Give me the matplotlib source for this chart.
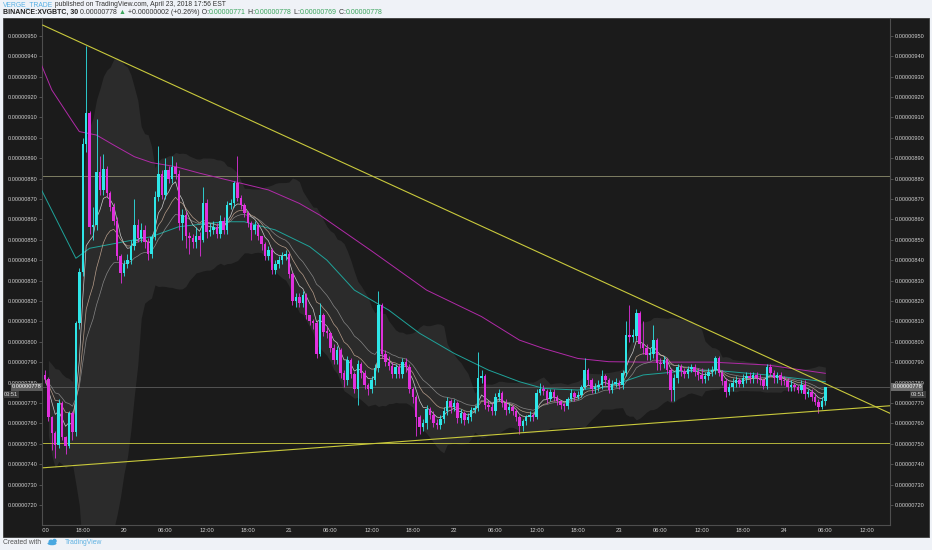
import numpy as np
import pandas as pd
import matplotlib
matplotlib.use("Agg")
import matplotlib.pyplot as plt
from matplotlib.patches import Rectangle, Ellipse

plt.rcParams['font.family'] = ['Liberation Sans', 'DejaVu Sans']

# --- data (prices in 1e-8 BTC), 30 min candles from 2018-04-19 12:30 ---
first_open = 783.7
closes = [781.7, 763.3, 755.1, 749.4, 769.8, 753.5, 749.0, 764.9, 755.9, 809.0,
          834.0, 897.0, 912.0, 856.0, 857.0, 883.0, 874.5, 884.5, 873.0, 866.0,
          859.0, 842.0, 833.5, 838.0, 840.0, 847.0, 857.0, 851.0, 855.0, 849.0,
          843.0, 851.5, 871.0, 882.0, 872.0, 884.0, 880.0, 885.5, 882.0, 858.0,
          862.0, 852.0, 851.0, 849.0, 852.0, 850.0, 868.0, 854.0, 855.0, 856.0,
          853.0, 859.0, 855.0, 867.0, 868.0, 878.0, 870.5, 867.0, 863.0, 858.0,
          855.0, 857.0, 852.0, 848.0, 842.0, 845.0, 835.0, 838.0, 840.0, 842.0,
          843.0, 833.0, 820.0, 822.0, 819.0, 823.0, 813.0, 810.0, 809.0, 794.0,
          813.0, 805.0, 804.5, 797.0, 791.0, 796.0, 784.5, 781.0, 791.0, 784.0,
          777.0, 789.0, 784.5, 779.0, 777.0, 781.0, 787.0, 818.0, 794.0, 790.0,
          788.0, 784.0, 787.5, 784.0, 790.0, 787.5, 777.0, 773.0, 763.0, 758.0,
          760.0, 767.0, 764.0, 760.0, 759.0, 762.0, 766.0, 771.0, 768.0, 770.0,
          762.5, 765.0, 761.5, 763.0, 766.5, 767.5, 782.0, 783.0, 769.0, 768.0,
          766.0, 773.0, 775.0, 770.0, 766.5, 768.0, 766.0, 763.0, 758.5, 761.0,
          763.0, 764.0, 763.0, 775.0, 777.0, 776.0, 772.0, 775.5, 773.0, 771.0,
          769.0, 768.5, 772.0, 775.0, 773.0, 774.0, 778.0, 786.0, 781.0, 777.0,
          778.0, 779.0, 783.0, 781.0, 776.5, 779.5, 780.0, 779.0, 784.5, 803.5,
          802.5, 803.0, 814.0, 799.0, 797.0, 793.5, 794.0, 801.0, 789.5, 789.0,
          791.0, 786.0, 776.5, 782.0, 787.5, 785.5, 784.0, 786.5, 787.5, 785.0,
          783.5, 781.5, 783.0, 785.0, 786.0, 792.0, 784.5, 780.5, 775.5, 778.0,
          780.0, 781.0, 779.5, 782.0, 783.0, 782.0, 783.5, 782.0, 781.0, 778.5,
          787.5, 784.5, 782.0, 783.5, 781.0, 780.5, 778.0, 779.0, 778.0, 776.5,
          779.0, 774.5, 775.5, 773.0, 770.5, 768.0, 771.0, 778.0]
highs = [786, 782.5, 763.5, 756, 772, 771, 754, 766, 766, 810,
         836, 900, 945, 913, 866, 909, 891, 892, 886, 874,
         868, 861, 843, 840, 843, 850, 870, 860, 858, 857,
         851, 853, 874, 896, 884, 890, 886, 891, 888, 884,
         865, 864, 854, 853, 856, 854, 876, 870, 858, 859,
         858, 862, 861, 869, 870, 879, 891, 872, 868, 864,
         859, 859, 858, 850, 849, 847, 846, 840, 842, 844,
         845, 844, 834, 824, 824, 825, 824, 813, 811, 810,
         819, 814, 807, 805, 799, 798, 797, 786, 793, 792,
         785, 791, 790, 786, 780, 783, 789, 825, 819, 796,
         793, 790, 789, 789, 792, 792, 789, 778, 774, 764,
         762, 769, 768, 766, 762, 764, 768, 773, 772, 772,
         771, 767, 766, 765, 768, 769, 795, 786, 784, 771,
         770, 775, 777, 776, 772, 770, 769, 767, 764, 762,
         764, 766, 765, 777, 780, 779, 777, 777, 777, 774,
         771, 770, 773, 777, 776, 776, 779, 792, 787, 782,
         780, 781, 786, 784, 782, 781, 782, 781, 786, 810,
         818, 806, 816, 815, 810, 799, 797, 808, 802, 792,
         793, 792, 787, 784, 789, 789, 787, 788, 789, 789,
         787, 787, 785, 787, 788, 793, 793, 786, 782, 780,
         782, 783, 782, 784, 785, 785, 785, 785, 784, 782,
         789, 789, 786, 785, 785, 783, 782, 781, 780, 779,
         781, 781, 777, 777, 775, 772, 773, 778]
lows = [780, 761, 747, 743, 748, 752, 745, 748, 752, 754,
        806, 832, 893, 853, 850, 855, 872, 872, 871, 864,
        857, 840, 829, 832, 836, 838, 845, 849, 849, 846,
        840, 841, 850, 869, 870, 870, 878, 878, 880, 855,
        850, 846, 843, 846, 846, 842, 849, 851, 852, 853,
        851, 851, 853, 853, 865, 866, 869, 865, 861, 856,
        850, 853, 850, 845, 840, 840, 833, 833, 836, 838,
        840, 831, 818, 817, 817, 817, 811, 808, 806, 792,
        793, 803, 802, 795, 789, 789, 782, 778, 779, 782,
        775, 769, 782, 777, 774, 775, 779, 785, 792, 788,
        786, 782, 782, 782, 782, 785, 775, 770, 754, 755,
        756, 757, 762, 758, 757, 757, 760, 764, 765, 766,
        760, 760, 759, 760, 761, 765, 766, 780, 767, 766,
        764, 764, 771, 768, 764, 765, 764, 761, 755, 756,
        759, 761, 761, 762, 774, 774, 770, 771, 771, 769,
        767, 766, 767, 771, 771, 772, 773, 777, 779, 775,
        775, 776, 777, 779, 775, 775, 778, 777, 777, 783,
        800, 800, 801, 797, 794, 791, 791, 792, 786, 786,
        787, 784, 771, 771, 780, 783, 782, 782, 785, 783,
        781, 780, 780, 781, 783, 784, 783, 779, 773, 774,
        776, 778, 778, 778, 780, 780, 780, 780, 779, 777,
        777, 783, 780, 780, 779, 779, 776, 776, 776, 775,
        775, 772, 773, 771, 769, 765, 767, 769]

# long moving averages (candle index, value)
ma_slow_idx = [-1, 2, 8, 10, 15, 20, 26, 31, 38, 45, 55, 65, 74, 80, 95,
               111, 127, 138, 145, 155, 164, 174, 194, 210, 227]
ma_slow_val = [935.6, 923.4, 908.0, 903.0, 901.3, 896.4, 890.7, 887.8, 885.8,
               882.6, 878.5, 874.4, 867.8, 862.0, 844.5, 825.3, 812.3, 800.8,
               796.7, 791.8, 790.2, 790.0, 790.0, 788.6, 784.5]
ma_mid_idx = [-1, 9, 13, 23, 31, 39, 52, 58, 67, 77, 82, 90, 100, 109, 119,
              129, 138, 145, 155, 164, 174, 184, 194, 210, 227]
ma_mid_val = [874.4, 840.9, 845.8, 849.0, 851.5, 856.4, 858.8, 858.8, 854.8,
              846.6, 840.0, 825.3, 815.5, 804.1, 794.3, 786.1, 780.4, 777.1,
              776.3, 778.0, 783.7, 785.3, 786.1, 783.7, 780.4]

# drawn lines (candle index, value)
resistance = ([-0.65, 245.8], [955.2, 764.9])
support = ([-0.48, 245.8], [738.2, 768.6])
levels = [881.2, 750.2]
last_price = 778

y_ticks = list(range(720, 951, 10))

CYAN = '#2ee6e8'
MAG = '#e030dd'
PANEL = '#1b1b1b'

n = len(closes)
assert len(highs) == n and len(lows) == n

c = np.array(closes)
o = np.r_[first_open, c[:-1]]
h = np.maximum(np.array(highs, float), np.maximum(o, c))
l = np.minimum(np.array(lows, float), np.minimum(o, c))
x = np.arange(n)
times = pd.date_range('2018-04-19 12:30', periods=n, freq='30min')

W, H = 932, 550
fig = plt.figure(figsize=(W / 100, H / 100), dpi=100, facecolor='#eff2f7')


def fx(px):
    return px / W


def fy(py):
    return 1 - py / H


fig.patches.append(Rectangle((fx(3), fy(537)), fx(926), 519 / H, transform=fig.transFigure,
                             facecolor=PANEL, edgecolor='#3c3c3c', lw=0.6, zorder=-1))

ax = fig.add_axes([fx(42), fy(525), fx(848), 507 / H])
ax.set_facecolor('none')
ax.set_xlim(-0.855, 245.8)
ax.set_ylim(710.15, 958.68)

# bollinger style band
s = pd.Series(c)
mid = s.rolling(20, min_periods=2).mean()
sd = s.rolling(20, min_periods=2).std(ddof=0)
ax.fill_between(x, mid - 2 * sd, mid + 2 * sd, color='#2b2b2b', lw=0, zorder=1)

# moving averages
ax.plot(ma_slow_idx, ma_slow_val, color='#b12aa8', lw=0.7, zorder=3)
ax.plot(ma_mid_idx, ma_mid_val, color='#1fa39a', lw=0.7, zorder=3)
for span, col in [(6, '#f2f2f2'), (12, '#d9b9a2'), (20, '#9c9c9c')]:
    ax.plot(x, s.ewm(span=span, adjust=False).mean(), color=col, lw=0.5, alpha=0.8, zorder=3)

# levels and trendlines
ax.axhline(last_price, color='#5c5c5c', lw=0.6, zorder=2)
ax.axhline(levels[0], color='#8e8e6e', lw=0.6, zorder=2)
ax.axhline(levels[1], color='#b4b43a', lw=0.7, zorder=2)
ax.plot(*resistance, color='#c9c93c', lw=0.8, zorder=6)
ax.plot(*support, color='#c9c93c', lw=0.8, zorder=6)

# candles
col = np.where(c >= o, CYAN, MAG)
ax.vlines(x, l, h, colors=col, lw=0.6, zorder=4)
body = np.maximum(np.abs(c - o), 0.8)
ax.bar(x, body, bottom=np.minimum(o, c), width=0.72, color=col, lw=0, zorder=5)

# y axis on both sides
ax.set_yticks(y_ticks)
ax.set_yticklabels([f"{v / 1e8:.8f}" for v in y_ticks])
ax.tick_params(axis='y', left=True, right=True, labelleft=True, labelright=True,
               length=2, width=0.5, pad=1.5, labelsize=4.1, color='#666666',
               labelcolor='#d0d0d0')
ax.set_xticks([])
ax.spines['top'].set_visible(False)
for sp in ['left', 'right', 'bottom']:
    ax.spines[sp].set_color('#4e4e4e')
    ax.spines[sp].set_linewidth(0.8)

# time axis
axt = fig.add_axes([fx(42), fy(537), fx(848), 12 / H])
axt.set_xlim(ax.get_xlim())
axt.set_ylim(0, 1)
axt.axis('off')
for t in pd.date_range('2018-04-19 12:00', '2018-04-24 12:00', freq='6h'):
    pos = (t - times[0]) / pd.Timedelta('30min')
    lab = str(t.day) if t.hour == 0 else t.strftime('%H:%M')
    axt.text(pos, 0.5, lab, ha='center', va='center', fontsize=4.2, color='#d0d0d0', clip_on=True)

# last price tags
fig.text(fx(41.5), fy(387), f"{last_price / 1e8:.8f}", ha='right', va='center', fontsize=4.1,
         color='white', bbox=dict(boxstyle='square,pad=0.2', fc='#5a5a5a', ec='none'), zorder=10)
fig.text(fx(4), fy(394.5), '03:51', ha='left', va='center', fontsize=4.1, color='#e0e0e0',
         bbox=dict(boxstyle='square,pad=0.2', fc='#3c3c3c', ec='none'), zorder=10)
fig.text(fx(892.5), fy(387), f"{last_price / 1e8:.8f}", ha='left', va='center', fontsize=4.1,
         color='white', bbox=dict(boxstyle='square,pad=0.2', fc='#6a6a6a', ec='none'), zorder=10)
fig.text(fx(911), fy(394.5), '03:51', ha='left', va='center', fontsize=4.1, color='#e0e0e0',
         bbox=dict(boxstyle='square,pad=0.2', fc='#3c3c3c', ec='none'), zorder=10)

# header and footer
renderer = fig.canvas.get_renderer()


def put_row(x_px, y_px, parts, size):
    xf = fx(x_px)
    for txt, colr, wt in parts:
        t = fig.text(xf, fy(y_px), txt, fontsize=size, color=colr, fontweight=wt,
                     ha='left', va='center')
        xf += t.get_window_extent(renderer=renderer).width / W


GREEN = '#3aa55c'
DARK = '#333333'
put_row(3, 5, [('VERGE_TRADE', '#58b0e4', 'normal'),
               (' published on TradingView.com, April 23, 2018 17:56 EST', DARK, 'normal')], 4.9)
put_row(3, 12.5, [('BINANCE:XVGBTC, 30', '#222222', 'bold'),
                  (' 0.00000778 ', DARK, 'normal'), ('\u25b2', GREEN, 'normal'),
                  (' +0.00000002 (+0.26%) O:', DARK, 'normal'), ('0.00000771', GREEN, 'normal'),
                  (' H:', DARK, 'normal'), ('0.00000778', GREEN, 'normal'),
                  (' L:', DARK, 'normal'), ('0.00000769', GREEN, 'normal'),
                  (' C:', DARK, 'normal'), ('0.00000778', GREEN, 'normal')], 5.0)

fig.text(fx(3), fy(542.5), 'Created with', fontsize=4.9, color='#555555', ha='left', va='center')
for cx, cy, w, hh in [(52, 543.5, 9, 3.5), (51, 541.5, 5, 4), (54.5, 541, 4.5, 4.5)]:
    fig.patches.append(Ellipse((fx(cx), fy(cy)), fx(w), hh / H, transform=fig.transFigure,
                               facecolor='#4aa8e0', edgecolor='none'))
fig.text(fx(65), fy(542.5), 'TradingView', fontsize=4.9, color='#5fb2e2', ha='left', va='center')

fig.savefig('out.png', dpi=100, facecolor=fig.get_facecolor())
